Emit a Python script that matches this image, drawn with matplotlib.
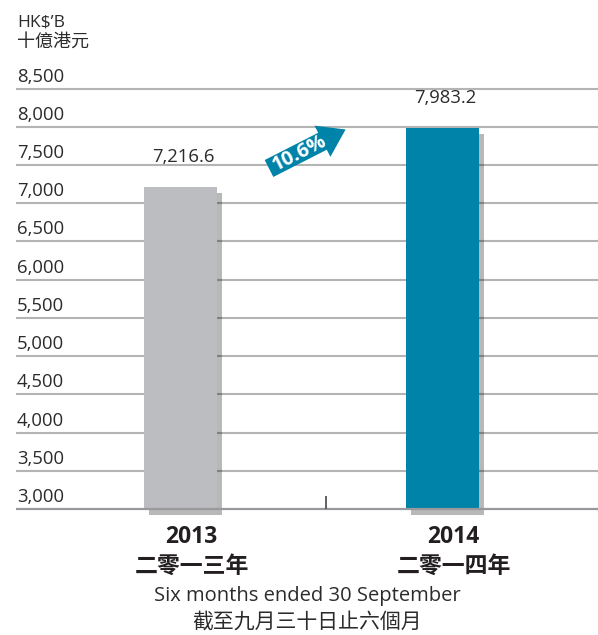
import numpy as np
import matplotlib
matplotlib.use("Agg")
import matplotlib.pyplot as plt
from matplotlib.patches import Polygon
import matplotlib.transforms as mtransforms

# ---- data ----
years = ["2013", "2014"]
years_zh = ["二零一三年", "二零一四年"]
values = [7216.6, 7983.2]
value_labels = ["7,216.6", "7,983.2"]
yticks = [3000, 3500, 4000, 4500, 5000, 5500, 6000, 6500, 7000, 7500, 8000, 8500]
growth_label = "10.6%"
bar_colors = ["#bcbdc0", "#0083a9"]

LATIN = 'Open Sans'
plt.rcParams['font.family'] = [LATIN, 'Noto Sans CJK TC', 'DejaVu Sans']

W, H = 598, 635
fig = plt.figure(figsize=(W / 100, H / 100), dpi=100)

ax_left, ax_right = 16, 598
ax_top_px, ax_bot_px = 80, 520
ax = fig.add_axes([ax_left / W, 1 - ax_bot_px / H, (ax_right - ax_left) / W, (ax_bot_px - ax_top_px) / H])

px_per_unit = (509 - 88.5) / 5500.0
ymin = 3000 - (ax_bot_px - 509) / px_per_unit
ymax = 3000 + (509 - ax_top_px) / px_per_unit
ax.set_ylim(ymin, ymax)

cat_px = [180.5, 442.5]
px_per_cat = cat_px[1] - cat_px[0]
xmin = 0 - (cat_px[0] - ax_left) / px_per_cat
xmax = 1 + (ax_right - cat_px[1]) / px_per_cat
ax.set_xlim(xmin, xmax)

for s in ax.spines.values():
    s.set_visible(False)
ax.set_yticks([])
ax.set_xticks([])

base = yticks[0]

# gridlines
for t in yticks[1:]:
    ax.axhline(t, color='#b4b4b4', lw=1.5, zorder=1)
ax.axhline(base, color='#98989d', lw=1.6, zorder=5)

# small divider tick between the two categories
ax.vlines([0.5 + 14.5 / px_per_cat], base, base + 12.5 / px_per_unit,
          color='#555555', lw=1.3, zorder=5)

# tick labels above gridlines
ylab_tr = mtransforms.offset_copy(ax.get_yaxis_transform(), fig=fig, x=1, y=3, units='dots')
for t in yticks:
    ax.text(0, t, f"{t:,}", transform=ylab_tr, ha='left', va='bottom',
            fontsize=13.3, color='#2b2b2b')

x = np.arange(len(values))
bw = 73 / px_per_cat
dx = 5 / px_per_cat
dy = 6 / px_per_unit
ax.bar(x + dx, np.array(values) - base, bottom=base - dy, width=bw,
       color='black', alpha=0.28, zorder=2, linewidth=0)
ax.bar(x, np.array(values) - base, bottom=base, width=bw, color=bar_colors, zorder=3, linewidth=0)

for i, (v, lab) in enumerate(zip(values, value_labels)):
    ax.annotate(lab, (i, v), xytext=(3, 30), textcoords='offset pixels',
                ha='center', va='center', fontsize=13.3, color='#2b2b2b')

for i, (yr, yz) in enumerate(zip(years, years_zh)):
    ax.annotate(yr, (i, base), xytext=(11, -28), textcoords='offset pixels',
                ha='center', va='center', fontsize=16.5, fontweight='bold', color='#231f20',
                annotation_clip=False)
    ax.annotate(yz, (i, base), xytext=(11, -57), textcoords='offset pixels',
                ha='center', va='center', fontsize=16.5, fontweight='bold', color='#231f20',
                annotation_clip=False, family=['Noto Sans CJK TC'])

fig.text(307.5 / W, 1 - 596 / H, "Six months ended 30 September", ha='center', va='center',
         fontsize=14.5, color='#2b2b2b')
fig.text(307.5 / W, 1 - 622 / H, "截至九月三十日止六個月", ha='center', va='center',
         fontsize=15, color='#2b2b2b', family=['Noto Sans CJK TC'], fontweight='light')

fig.text(17 / W, 1 - 22 / H, "HK$\u2019B", ha='left', va='center', fontsize=12.5, color='#2b2b2b')
fig.text(17 / W, 1 - 42 / H, "十億港元", ha='left', va='center', fontsize=13, color='#2b2b2b',
         family=['Noto Sans CJK TC'], fontweight='light')

# growth arrow (decoration, pixel space)
theta = np.deg2rad(27)
P0 = np.array([269.0, 168.5])
u = np.array([np.cos(theta), -np.sin(theta)])
n = np.array([-np.sin(theta), -np.cos(theta)])
w, hw, L, Lh = 9.5, 17.5, 86, 26
local = [(0, -w), (L - Lh, -w), (L - Lh, -hw), (L, 0), (L - Lh, hw), (L - Lh, w), (0, w)]
pts = [P0 + a * u + b * n for a, b in local]
pts_fig = [(p[0] / W, 1 - p[1] / H) for p in pts]
fig.patches.append(Polygon(pts_fig, closed=True, transform=fig.transFigure,
                           facecolor='#0083a9', edgecolor='none', zorder=10))
tc = P0 + 34 * u
fig.text(tc[0] / W, 1 - tc[1] / H, growth_label, ha='center', va='center', rotation=27,
         rotation_mode='anchor', fontsize=14.5, fontweight='bold', color='white', zorder=11)

fig.savefig("out.png", dpi=100)
